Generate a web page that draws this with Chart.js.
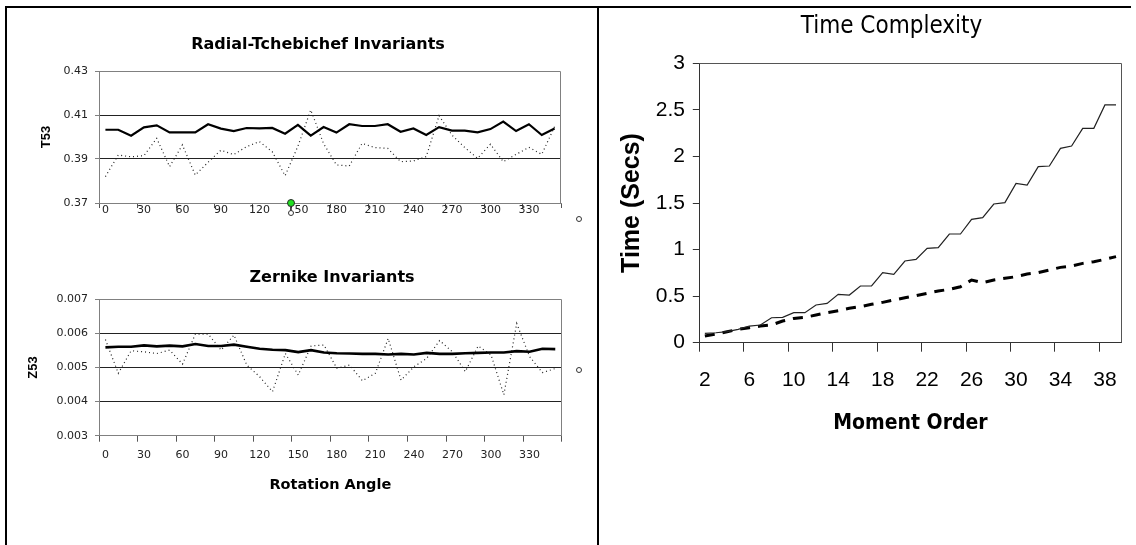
<!DOCTYPE html>
<html>
<head>
<meta charset="utf-8">
<title>Invariants and time complexity</title>
<script src="https://cdn.jsdelivr.net/npm/chart.js"></script>
<style>
  html, body { margin: 0; padding: 0; background: #fff; overflow: hidden; }
  #page { position: relative; width: 1136px; height: 545px; overflow: hidden; background: #fff; }
  canvas { position: absolute; }
  .rule { position: absolute; background: #000; }
  .ring { position: absolute; width: 4px; height: 4px; border: 1px solid #333; border-radius: 50%; background: #fff; }
</style>
</head>
<body>
<div id="page">
  <canvas id="t53Chart" width="636" height="240" style="left:0;top:0"></canvas>
  <canvas id="z53Chart" width="664" height="305" style="left:0;top:240px"></canvas>
  <canvas id="timeChart" width="583" height="545" style="left:600px;top:0"></canvas>

  <!-- frame round the picture -->
  <div class="rule" style="left:5px;top:6px;width:1126px;height:2px"></div>
  <div class="rule" style="left:5px;top:6px;width:2px;height:539px"></div>
  <div class="rule" style="left:597px;top:6px;width:2px;height:539px"></div>

  <!-- stray markers in the original -->
  <div style="position:absolute;left:287px;top:199px;width:6px;height:6px;border:1px solid #2a2a2a;border-radius:50%;background:#22e022"></div>
  <div style="position:absolute;left:290px;top:206px;width:1px;height:5px;background:#444"></div>
  <div class="ring" style="left:288px;top:210px"></div>
  <div class="ring" style="left:576px;top:216px"></div>
  <div class="ring" style="left:576px;top:367px"></div>
</div>

<script>
// Radial-Tchebichef / Zernike invariants vs rotation angle
const angles = [0, 10, 20, 30, 40, 50, 60, 70, 80, 90, 100, 110, 120, 130, 140, 150, 160, 170,
  180, 190, 200, 210, 220, 230, 240, 250, 260, 270, 280, 290, 300, 310, 320, 330, 340, 350];

const t53Solid = [0.4033, 0.4033, 0.4006, 0.4044, 0.4053, 0.4021, 0.4021, 0.4021, 0.4058, 0.4038,
  0.4027, 0.4041, 0.4039, 0.4041, 0.4015, 0.4055, 0.4006, 0.4045, 0.4020, 0.4058,
  0.4050, 0.4050, 0.4058, 0.4024, 0.4039, 0.4009, 0.4045, 0.4029, 0.4029, 0.4021,
  0.4036, 0.4070, 0.4027, 0.4058, 0.4009, 0.4039];
const t53Dotted = [0.3820, 0.3918, 0.3910, 0.3915, 0.3994, 0.3865, 0.3964, 0.3827, 0.3885, 0.3940,
  0.3920, 0.3956, 0.3979, 0.3933, 0.3824, 0.3958, 0.4123, 0.3970, 0.3873, 0.3868,
  0.3971, 0.3952, 0.3948, 0.3888, 0.3891, 0.3911, 0.4097, 0.4009, 0.3952, 0.3903,
  0.3967, 0.3888, 0.3921, 0.3953, 0.3921, 0.4047];
const t53Ticks = [0.37, 0.39, 0.41, 0.43];

const z53Solid = [0.00559, 0.00561, 0.00561, 0.00565, 0.00562, 0.00564, 0.00562, 0.00569, 0.00563, 0.00563,
  0.00567, 0.00561, 0.00555, 0.00552, 0.00551, 0.00545, 0.00551, 0.00544, 0.00542, 0.00541,
  0.00540, 0.00540, 0.00538, 0.00540, 0.00538, 0.00543, 0.00540, 0.00540, 0.00542, 0.00543,
  0.00544, 0.00544, 0.00548, 0.00546, 0.00555, 0.00554];
const z53Dotted = [0.00582, 0.00483, 0.00549, 0.00546, 0.00541, 0.00551, 0.00510, 0.00598, 0.00598, 0.00551,
  0.00595, 0.00507, 0.00473, 0.00429, 0.00541, 0.00478, 0.00563, 0.00566, 0.00498, 0.00507,
  0.00461, 0.00483, 0.00585, 0.00463, 0.00502, 0.00527, 0.00579, 0.00546, 0.00488, 0.00563,
  0.00537, 0.00420, 0.00629, 0.00532, 0.00485, 0.00497];
const z53Ticks = [0.003, 0.004, 0.005, 0.006, 0.007];

// Time complexity vs moment order
const orders = [2, 3, 4, 5, 6, 7, 8, 9, 10, 11, 12, 13, 14, 15, 16, 17, 18, 19, 20,
  21, 22, 23, 24, 25, 26, 27, 28, 29, 30, 31, 32, 33, 34, 35, 36, 37, 38, 39];
const timeSolid = [0.100, 0.107, 0.118, 0.143, 0.179, 0.190, 0.268, 0.272, 0.322, 0.322,
  0.405, 0.422, 0.519, 0.512, 0.609, 0.609, 0.752, 0.734, 0.877, 0.895,
  1.013, 1.020, 1.167, 1.167, 1.325, 1.343, 1.489, 1.504, 1.711, 1.693,
  1.890, 1.897, 2.087, 2.112, 2.302, 2.302, 2.553, 2.553];
const timeDashed = [0.072, 0.093, 0.118, 0.143, 0.161, 0.179, 0.190, 0.233, 0.261, 0.272,
  0.297, 0.322, 0.344, 0.369, 0.387, 0.412, 0.433, 0.458, 0.483, 0.505,
  0.530, 0.555, 0.573, 0.601, 0.673, 0.644, 0.673, 0.691, 0.709, 0.737,
  0.752, 0.780, 0.809, 0.823, 0.852, 0.870, 0.895, 0.924];
const timeTicks = [0, 0.5, 1, 1.5, 2, 2.5, 3];

const dejavu = "'DejaVu Sans', sans-serif";
const lib = "'Liberation Sans', Arial, sans-serif";
const condensed = "'DejaVu Sans Condensed', 'DejaVu Sans', sans-serif";
const clear = 'rgba(0,0,0,0)';

// top and right edge of the plot box
const framePlugin = {
  id: 'frame',
  beforeDatasetsDraw(chart, args, opts) {
    const { ctx, chartArea } = chart;
    const top = Math.round(chartArea.top) + 0.5;
    const right = Math.round(chartArea.right) - 0.5;
    ctx.save();
    ctx.strokeStyle = opts.color || '#777';
    ctx.lineWidth = 1;
    ctx.beginPath();
    ctx.moveTo(chartArea.left, top);
    ctx.lineTo(right, top);
    ctx.lineTo(right, chartArea.bottom);
    ctx.stroke();
    ctx.restore();
  }
};

// tick mark only every n categories (last boundary has no index)
function everyNth(n, color, withEnd) {
  return c => {
    if (c.index === undefined) return withEnd ? color : clear;
    return c.index % n === 0 ? color : clear;
  };
}

function innerGrid(count, color) {
  return c => (c.index > 0 && c.index < count - 1) ? color : clear;
}

// empty axis on the right, only takes room so the title sits where it should
function spacer(w) {
  return {
    type: 'linear', position: 'right', display: true,
    afterFit: s => { s.width = w; },
    grid: { display: false }, border: { display: false }, ticks: { display: false }
  };
}

Chart.defaults.animation = false;
Chart.defaults.events = [];

// Chart: Radial-Tchebichef Invariants
new Chart(document.getElementById('t53Chart'), {
  type: 'line',
  data: {
    labels: angles,
    datasets: [
      { data: t53Solid, borderColor: '#000', borderWidth: 2.2, pointRadius: 0, tension: 0 },
      { data: t53Dotted, borderColor: '#222', borderWidth: 1.2, borderDash: [1, 3], pointRadius: 0, tension: 0 }
    ]
  },
  options: {
    responsive: false,
    layout: { padding: 0 },
    plugins: {
      legend: { display: false },
      tooltip: { enabled: false },
      title: {
        display: true, text: 'Radial-Tchebichef Invariants', color: '#000',
        font: { family: dejavu, size: 16, weight: 'bold', lineHeight: 1.2 },
        padding: { top: 35.4, bottom: 16.4 }
      },
      frame: { color: '#808080' }
    },
    scales: {
      x: {
        offset: true,
        afterFit: s => { s.height = 37; },
        grid: { offset: true, drawOnChartArea: false, tickLength: 5,
          color: everyNth(3, '#555', true), tickColor: everyNth(3, '#555', true) },
        border: { color: '#808080' },
        ticks: { autoSkip: false, maxRotation: 0, padding: -4, color: '#222',
          font: { family: dejavu, size: 11 },
          callback: (v, i) => i % 3 === 0 ? angles[i] : '' }
      },
      y: {
        min: t53Ticks[0], max: t53Ticks[t53Ticks.length - 1],
        afterFit: s => { s.width = 99; },
        afterBuildTicks: s => { s.ticks = t53Ticks.map(v => ({ value: v })); },
        grid: { color: innerGrid(t53Ticks.length, '#222'), tickColor: '#808080', tickLength: 4 },
        border: { color: '#808080' },
        ticks: { padding: 7, color: '#222', font: { family: dejavu, size: 11 },
          callback: v => v.toFixed(2) },
        title: { display: true, text: 'T53', color: '#000',
          font: { family: lib, size: 13, weight: 'bold', lineHeight: 1.2 },
          padding: { top: 38.9, bottom: 0 } }
      },
      pad: spacer(75)
    }
  },
  plugins: [framePlugin]
});

// Chart: Zernike Invariants
new Chart(document.getElementById('z53Chart'), {
  type: 'line',
  data: {
    labels: angles,
    datasets: [
      { data: z53Solid, borderColor: '#000', borderWidth: 2.6, pointRadius: 0, tension: 0 },
      { data: z53Dotted, borderColor: '#222', borderWidth: 1.2, borderDash: [1, 3], pointRadius: 0, tension: 0 }
    ]
  },
  options: {
    responsive: false,
    layout: { padding: 0 },
    plugins: {
      legend: { display: false },
      tooltip: { enabled: false },
      title: {
        display: true, text: 'Zernike Invariants', color: '#000',
        font: { family: dejavu, size: 16, weight: 'bold', lineHeight: 1.2 },
        padding: { top: 28.4, bottom: 11.7 }
      },
      frame: { color: '#808080' }
    },
    scales: {
      x: {
        offset: true,
        afterFit: s => { s.height = 109.3; },
        grid: { offset: true, drawOnChartArea: false, tickLength: 6,
          color: everyNth(3, '#555', true), tickColor: everyNth(3, '#555', true) },
        border: { color: '#808080' },
        ticks: { autoSkip: false, maxRotation: 0, padding: 6.7, color: '#222',
          font: { family: dejavu, size: 11 },
          callback: (v, i) => i % 3 === 0 ? angles[i] : '' },
        title: { display: true, text: 'Rotation Angle', color: '#000',
          font: { family: dejavu, size: 14.5, weight: 'bold', lineHeight: 1.2 },
          padding: { top: 0, bottom: 50.8 } }
      },
      y: {
        min: z53Ticks[0], max: z53Ticks[z53Ticks.length - 1],
        afterFit: s => { s.width = 99; },
        afterBuildTicks: s => { s.ticks = z53Ticks.map(v => ({ value: v })); },
        grid: { color: innerGrid(z53Ticks.length, '#222'), tickColor: '#808080', tickLength: 4 },
        border: { color: '#808080' },
        ticks: { padding: 7, color: '#222', font: { family: dejavu, size: 11 },
          callback: v => v.toFixed(3) },
        title: { display: true, text: 'Z53', color: '#000',
          font: { family: lib, size: 13, weight: 'bold', lineHeight: 1.2 },
          padding: { top: 25.2, bottom: 0 } }
      },
      pad: spacer(102.3)
    }
  },
  plugins: [framePlugin]
});

// Chart: Time Complexity
new Chart(document.getElementById('timeChart'), {
  type: 'line',
  data: {
    labels: orders,
    datasets: [
      { data: timeSolid, borderColor: '#222', borderWidth: 1.2, pointRadius: 0, tension: 0 },
      { data: timeDashed, borderColor: '#000', borderWidth: 3, borderDash: [10, 8], pointRadius: 0, tension: 0 }
    ]
  },
  options: {
    responsive: false,
    layout: { padding: 0 },
    plugins: {
      legend: { display: false },
      tooltip: { enabled: false },
      title: {
        display: true, text: 'Time Complexity', color: '#000',
        font: { family: condensed, size: 24, weight: 'normal', lineHeight: 1.2 },
        padding: { top: 12.3, bottom: 22.2 }
      },
      frame: { color: '#555' }
    },
    scales: {
      x: {
        offset: true,
        afterFit: s => { s.height = 202.3; },
        grid: { offset: true, drawOnChartArea: false, tickLength: 9,
          color: everyNth(4, '#333', false), tickColor: everyNth(4, '#333', false) },
        border: { color: '#333' },
        ticks: { autoSkip: false, maxRotation: 0, padding: 16.2, color: '#000',
          font: { family: lib, size: 21 },
          callback: (v, i) => i % 4 === 0 ? orders[i] : '' },
        title: { display: true, text: 'Moment Order', color: '#000',
          font: { family: condensed, size: 21, weight: 'bold', lineHeight: 1.2 },
          padding: { top: 0, bottom: 108.4 } }
      },
      y: {
        min: timeTicks[0], max: timeTicks[timeTicks.length - 1],
        afterFit: s => { s.width = 99.3; },
        afterBuildTicks: s => { s.ticks = timeTicks.map(v => ({ value: v })); },
        grid: { drawOnChartArea: false, color: '#333', tickLength: 6.5 },
        border: { color: '#333' },
        ticks: { padding: 7.8, color: '#000', font: { family: lib, size: 21 },
          callback: v => String(v) },
        title: { display: true, text: 'Time (Secs)', color: '#000',
          font: { family: lib, size: 25, weight: 'bold', lineHeight: 1.2 },
          padding: { top: 17.6, bottom: 0 } }
      },
      pad: spacer(61.4)
    }
  },
  plugins: [framePlugin]
});
</script>
</body>
</html>
